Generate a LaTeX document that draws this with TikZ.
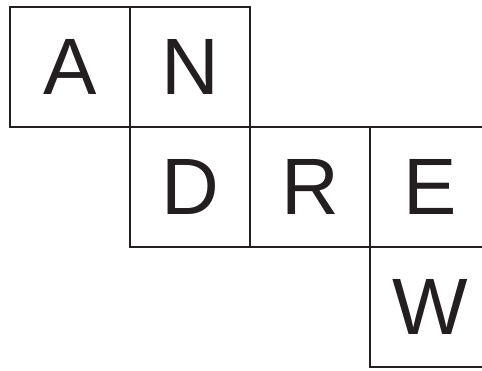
\documentclass[tikz,border=0pt]{standalone}
\usepackage{fontspec}
\setmainfont{Liberation Sans}
\usepackage{xcolor}
\usetikzlibrary{positioning}
\definecolor{inkgray}{RGB}{35,31,32}

\begin{document}
\begin{tikzpicture}[
        x=1pt, y=1pt,
        cell/.style={rectangle, draw=inkgray, line width=1.1pt, minimum size=120pt, inner sep=0pt, outer sep=0pt, text=inkgray, font=\fontsize{80}{80}\selectfont}
    ]
        \useasboundingbox (0,0) rectangle (482,-370);
        \clip (0,0) rectangle (482,-370);

        % first row
        \node[cell] (a) at (70,-67) {A};
        \node[cell, right=0pt of a] (n) {N};

        % second row
        \node[cell, below=0pt of n] (d) {D};
        \node[cell, right=0pt of d] (r) {R};
        \node[cell, right=0pt of r] (e) {E};

        % third row
        \node[cell, below=0pt of e] (w) {W};

    \end{tikzpicture}
\end{document}
